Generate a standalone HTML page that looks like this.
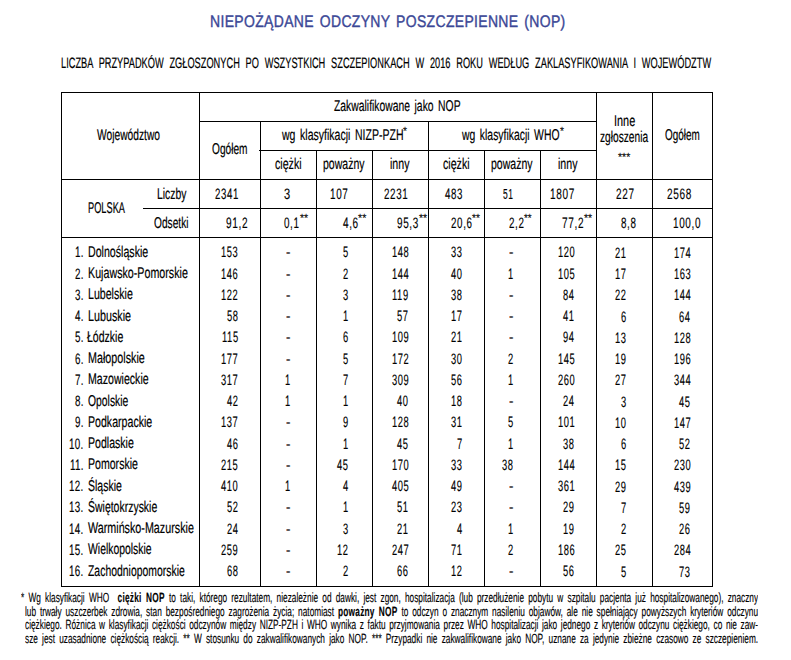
<!DOCTYPE html>
<html lang="pl"><head><meta charset="utf-8"><title>NOP 2016</title>
<style>
html,body{margin:0;padding:0;background:#fff}
body{width:791px;height:660px;position:relative;overflow:hidden;font-family:"Liberation Sans",sans-serif;color:#000}
.t{position:absolute;display:block;white-space:nowrap;transform-origin:0 0;-webkit-text-stroke:0.2px currentColor}
i{position:absolute;display:block;background:#000}
b{letter-spacing:.4px}
.f{position:absolute;white-space:nowrap;font-size:13.3px;line-height:13.3px;transform-origin:0 0;text-align:justify;text-align-last:justify;white-space:normal;overflow:hidden;height:16.3px;-webkit-text-stroke:0.15px currentColor}
</style></head><body>
<i style="left:61px;top:92px;width:652px;height:1px"></i>
<i style="left:61px;top:586px;width:652px;height:1px"></i>
<i style="left:61px;top:179px;width:652px;height:1px"></i>
<i style="left:61px;top:237px;width:652px;height:1px"></i>
<i style="left:199px;top:121px;width:398px;height:1px"></i>
<i style="left:259px;top:150px;width:338px;height:1px"></i>
<i style="left:143px;top:208px;width:570px;height:1px"></i>
<i style="left:61px;top:92px;width:1px;height:495px"></i>
<i style="left:712px;top:92px;width:1px;height:495px"></i>
<i style="left:199px;top:92px;width:1px;height:495px"></i>
<i style="left:260px;top:121px;width:1px;height:466px"></i>
<i style="left:428px;top:121px;width:1px;height:466px"></i>
<i style="left:316px;top:150px;width:1px;height:437px"></i>
<i style="left:372px;top:150px;width:1px;height:437px"></i>
<i style="left:484px;top:150px;width:1px;height:437px"></i>
<i style="left:540px;top:150px;width:1px;height:437px"></i>
<i style="left:596px;top:92px;width:1px;height:495px"></i>
<i style="left:652px;top:92px;width:1px;height:495px"></i>
<span class="t" style="left:209.97px;top:14.18px;font-size:16.8px;line-height:16.8px;transform:scaleX(0.8330) skewX(.05deg);word-spacing:2px;letter-spacing:0.4px;-webkit-text-stroke-width:0.4px;color:#3b4796">NIEPOŻĄDANE ODCZYNY POSZCZEPIENNE (NOP)</span>
<span class="t" style="left:61.08px;top:55.00px;font-size:15.0px;line-height:15.0px;transform:scaleX(0.6162) skewX(.05deg);word-spacing:5.2px">LICZBA PRZYPADKÓW ZGŁOSZONYCH PO WSZYSTKICH SZCZEPIONKACH W 2016 ROKU WEDŁUG ZAKLASYFIKOWANIA I WOJEWÓDZTW</span>
<span class="t" style="left:97.30px;top:126.69px;font-size:15.6px;line-height:15.6px;transform:scaleX(0.6567) skewX(.05deg)">Województwo</span>
<span class="t" style="left:212.20px;top:141.39px;font-size:15.6px;line-height:15.6px;transform:scaleX(0.6491) skewX(.05deg)">Ogółem</span>
<span class="t" style="left:334.20px;top:97.99px;font-size:15.6px;line-height:15.6px;transform:scaleX(0.6645) skewX(.05deg);word-spacing:2.5px">Zakwalifikowane jako NOP</span>
<span class="t" style="left:282.07px;top:126.89px;font-size:15.6px;line-height:15.6px;transform:scaleX(0.6748) skewX(.05deg);word-spacing:2.5px">wg klasyfikacji NIZP-PZH</span>
<span class="t" style="left:403.20px;top:125.29px;font-size:12px;line-height:12px;transform:scaleX(0.8600) skewX(.05deg);-webkit-text-stroke-width:0.1px">*</span>
<span class="t" style="left:461.67px;top:126.89px;font-size:15.6px;line-height:15.6px;transform:scaleX(0.6669) skewX(.05deg);word-spacing:2.5px">wg klasyfikacji WHO</span>
<span class="t" style="left:559.50px;top:125.29px;font-size:12px;line-height:12px;transform:scaleX(0.8600) skewX(.05deg);-webkit-text-stroke-width:0.1px">*</span>
<span class="t" style="left:275.00px;top:155.89px;font-size:15.6px;line-height:15.6px;transform:scaleX(0.6826) skewX(.05deg)">ciężki</span>
<span class="t" style="left:322.83px;top:155.89px;font-size:15.6px;line-height:15.6px;transform:scaleX(0.6749) skewX(.05deg)">poważny</span>
<span class="t" style="left:390.02px;top:155.89px;font-size:15.6px;line-height:15.6px;transform:scaleX(0.6832) skewX(.05deg)">inny</span>
<span class="t" style="left:443.00px;top:155.89px;font-size:15.6px;line-height:15.6px;transform:scaleX(0.6826) skewX(.05deg)">ciężki</span>
<span class="t" style="left:490.83px;top:155.89px;font-size:15.6px;line-height:15.6px;transform:scaleX(0.6749) skewX(.05deg)">poważny</span>
<span class="t" style="left:558.02px;top:155.89px;font-size:15.6px;line-height:15.6px;transform:scaleX(0.6832) skewX(.05deg)">inny</span>
<span class="t" style="left:613.50px;top:112.79px;font-size:15.6px;line-height:15.6px;transform:scaleX(0.6974) skewX(.05deg)">Inne</span>
<span class="t" style="left:599.50px;top:129.39px;font-size:15.6px;line-height:15.6px;transform:scaleX(0.6526) skewX(.05deg)">zgłoszenia</span>
<span class="t" style="left:617.90px;top:150.94px;font-size:12px;line-height:12px;transform:scaleX(0.8787) skewX(.05deg);-webkit-text-stroke-width:0.1px">***</span>
<span class="t" style="left:664.80px;top:126.69px;font-size:15.6px;line-height:15.6px;transform:scaleX(0.6361) skewX(.05deg)">Ogółem</span>
<span class="t" style="left:87.81px;top:199.89px;font-size:15.6px;line-height:15.6px;transform:scaleX(0.5919) skewX(.05deg)">POLSKA</span>
<span class="t" style="left:156.83px;top:185.99px;font-size:15.6px;line-height:15.6px;transform:scaleX(0.6682) skewX(.05deg)">Liczby</span>
<span class="t" style="left:154.40px;top:214.59px;font-size:15.6px;line-height:15.6px;transform:scaleX(0.6527) skewX(.05deg)">Odsetki</span>
<span class="t" style="left:214.70px;top:186.42px;font-size:15.1px;line-height:15.1px;transform:scaleX(0.6411) skewX(.05deg);letter-spacing:0.95px;-webkit-text-stroke-width:0.15px">2341</span>
<span class="t" style="left:284.00px;top:186.42px;font-size:15.1px;line-height:15.1px;transform:scaleX(0.7375) skewX(.05deg);letter-spacing:0.95px;-webkit-text-stroke-width:0.15px">3</span>
<span class="t" style="left:329.94px;top:186.42px;font-size:15.1px;line-height:15.1px;transform:scaleX(0.6579) skewX(.05deg);letter-spacing:0.95px;-webkit-text-stroke-width:0.15px">107</span>
<span class="t" style="left:384.40px;top:186.42px;font-size:15.1px;line-height:15.1px;transform:scaleX(0.6522) skewX(.05deg);letter-spacing:0.95px;-webkit-text-stroke-width:0.15px">2231</span>
<span class="t" style="left:444.60px;top:186.42px;font-size:15.1px;line-height:15.1px;transform:scaleX(0.6445) skewX(.05deg);letter-spacing:0.95px;-webkit-text-stroke-width:0.15px">483</span>
<span class="t" style="left:503.20px;top:186.42px;font-size:15.1px;line-height:15.1px;transform:scaleX(0.5593) skewX(.05deg);letter-spacing:0.95px;-webkit-text-stroke-width:0.15px">51</span>
<span class="t" style="left:550.03px;top:186.42px;font-size:15.1px;line-height:15.1px;transform:scaleX(0.6651) skewX(.05deg);letter-spacing:0.95px;-webkit-text-stroke-width:0.15px">1807</span>
<span class="t" style="left:615.50px;top:186.42px;font-size:15.1px;line-height:15.1px;transform:scaleX(0.6632) skewX(.05deg);letter-spacing:0.95px;-webkit-text-stroke-width:0.15px">227</span>
<span class="t" style="left:666.80px;top:186.42px;font-size:15.1px;line-height:15.1px;transform:scaleX(0.6661) skewX(.05deg);letter-spacing:0.95px;-webkit-text-stroke-width:0.15px">2568</span>
<span class="t" style="left:226.10px;top:215.22px;font-size:15.1px;line-height:15.1px;transform:scaleX(0.6723) skewX(.05deg);letter-spacing:0.95px;-webkit-text-stroke-width:0.15px">91,2</span>
<span class="t" style="left:284.00px;top:215.22px;font-size:15.1px;line-height:15.1px;transform:scaleX(0.6537) skewX(.05deg);letter-spacing:0.95px;-webkit-text-stroke-width:0.15px">0,1</span>
<span class="t" style="left:299.50px;top:212.29px;font-size:12px;line-height:12px;transform:scaleX(0.8790) skewX(.05deg);-webkit-text-stroke-width:0.1px">**</span>
<span class="t" style="left:342.50px;top:215.22px;font-size:15.1px;line-height:15.1px;transform:scaleX(0.6626) skewX(.05deg);letter-spacing:0.95px;-webkit-text-stroke-width:0.15px">4,6</span>
<span class="t" style="left:358.00px;top:212.29px;font-size:12px;line-height:12px;transform:scaleX(0.8894) skewX(.05deg);-webkit-text-stroke-width:0.1px">**</span>
<span class="t" style="left:396.50px;top:215.22px;font-size:15.1px;line-height:15.1px;transform:scaleX(0.6597) skewX(.05deg);letter-spacing:0.95px;-webkit-text-stroke-width:0.15px">95,3</span>
<span class="t" style="left:418.50px;top:212.29px;font-size:12px;line-height:12px;transform:scaleX(0.8790) skewX(.05deg);-webkit-text-stroke-width:0.1px">**</span>
<span class="t" style="left:450.90px;top:215.22px;font-size:15.1px;line-height:15.1px;transform:scaleX(0.6503) skewX(.05deg);letter-spacing:0.95px;-webkit-text-stroke-width:0.15px">20,6</span>
<span class="t" style="left:472.40px;top:212.29px;font-size:12px;line-height:12px;transform:scaleX(0.8480) skewX(.05deg);-webkit-text-stroke-width:0.1px">**</span>
<span class="t" style="left:508.80px;top:215.22px;font-size:15.1px;line-height:15.1px;transform:scaleX(0.6537) skewX(.05deg);letter-spacing:0.95px;-webkit-text-stroke-width:0.15px">2,2</span>
<span class="t" style="left:524.20px;top:212.29px;font-size:12px;line-height:12px;transform:scaleX(0.8273) skewX(.05deg);-webkit-text-stroke-width:0.1px">**</span>
<span class="t" style="left:562.40px;top:215.22px;font-size:15.1px;line-height:15.1px;transform:scaleX(0.6660) skewX(.05deg);letter-spacing:0.95px;-webkit-text-stroke-width:0.15px">77,2</span>
<span class="t" style="left:584.40px;top:212.29px;font-size:12px;line-height:12px;transform:scaleX(0.8790) skewX(.05deg);-webkit-text-stroke-width:0.1px">**</span>
<span class="t" style="left:620.50px;top:215.22px;font-size:15.1px;line-height:15.1px;transform:scaleX(0.6537) skewX(.05deg);letter-spacing:0.95px;-webkit-text-stroke-width:0.15px">8,8</span>
<span class="t" style="left:672.74px;top:215.22px;font-size:15.1px;line-height:15.1px;transform:scaleX(0.6596) skewX(.05deg);letter-spacing:0.95px;-webkit-text-stroke-width:0.15px">100,0</span>
<span class="t" style="left:74.83px;top:244.32px;font-size:15.1px;line-height:15.1px;transform:scaleX(0.6500) skewX(.05deg);letter-spacing:0.4px;-webkit-text-stroke-width:0.15px">1.</span>
<span class="t" style="left:87.62px;top:243.89px;font-size:15.6px;line-height:15.6px;transform:scaleX(0.6814) skewX(.05deg)">Dolnośląskie</span>
<span class="t" style="left:221.05px;top:244.32px;font-size:15.1px;line-height:15.1px;transform:scaleX(0.6200) skewX(.05deg);letter-spacing:0.95px;-webkit-text-stroke-width:0.15px">153</span>
<span class="t" style="left:285.90px;top:244.32px;font-size:15.1px;line-height:15.1px;transform:scaleX(0.8800) skewX(.05deg);letter-spacing:0.95px;-webkit-text-stroke-width:0.15px">-</span>
<span class="t" style="left:343.04px;top:244.32px;font-size:15.1px;line-height:15.1px;transform:scaleX(0.6200) skewX(.05deg);letter-spacing:0.95px;-webkit-text-stroke-width:0.15px">5</span>
<span class="t" style="left:391.65px;top:244.32px;font-size:15.1px;line-height:15.1px;transform:scaleX(0.6200) skewX(.05deg);letter-spacing:0.95px;-webkit-text-stroke-width:0.15px">148</span>
<span class="t" style="left:451.25px;top:244.32px;font-size:15.1px;line-height:15.1px;transform:scaleX(0.6200) skewX(.05deg);letter-spacing:0.95px;-webkit-text-stroke-width:0.15px">33</span>
<span class="t" style="left:508.90px;top:244.32px;font-size:15.1px;line-height:15.1px;transform:scaleX(0.8800) skewX(.05deg);letter-spacing:0.95px;-webkit-text-stroke-width:0.15px">-</span>
<span class="t" style="left:557.65px;top:244.32px;font-size:15.1px;line-height:15.1px;transform:scaleX(0.6200) skewX(.05deg);letter-spacing:0.95px;-webkit-text-stroke-width:0.15px">120</span>
<span class="t" style="left:615.05px;top:244.92px;font-size:15.1px;line-height:15.1px;transform:scaleX(0.6200) skewX(.05deg);letter-spacing:0.95px;-webkit-text-stroke-width:0.15px">21</span>
<span class="t" style="left:673.65px;top:244.92px;font-size:15.1px;line-height:15.1px;transform:scaleX(0.6200) skewX(.05deg);letter-spacing:0.95px;-webkit-text-stroke-width:0.15px">174</span>
<span class="t" style="left:74.83px;top:265.57px;font-size:15.1px;line-height:15.1px;transform:scaleX(0.6500) skewX(.05deg);letter-spacing:0.4px;-webkit-text-stroke-width:0.15px">2.</span>
<span class="t" style="left:87.61px;top:265.14px;font-size:15.6px;line-height:15.6px;transform:scaleX(0.6858) skewX(.05deg)">Kujawsko-Pomorskie</span>
<span class="t" style="left:221.05px;top:265.57px;font-size:15.1px;line-height:15.1px;transform:scaleX(0.6200) skewX(.05deg);letter-spacing:0.95px;-webkit-text-stroke-width:0.15px">146</span>
<span class="t" style="left:285.90px;top:265.57px;font-size:15.1px;line-height:15.1px;transform:scaleX(0.8800) skewX(.05deg);letter-spacing:0.95px;-webkit-text-stroke-width:0.15px">-</span>
<span class="t" style="left:343.04px;top:265.57px;font-size:15.1px;line-height:15.1px;transform:scaleX(0.6200) skewX(.05deg);letter-spacing:0.95px;-webkit-text-stroke-width:0.15px">2</span>
<span class="t" style="left:391.65px;top:265.57px;font-size:15.1px;line-height:15.1px;transform:scaleX(0.6200) skewX(.05deg);letter-spacing:0.95px;-webkit-text-stroke-width:0.15px">144</span>
<span class="t" style="left:451.25px;top:265.57px;font-size:15.1px;line-height:15.1px;transform:scaleX(0.6200) skewX(.05deg);letter-spacing:0.95px;-webkit-text-stroke-width:0.15px">40</span>
<span class="t" style="left:508.04px;top:265.57px;font-size:15.1px;line-height:15.1px;transform:scaleX(0.6200) skewX(.05deg);letter-spacing:0.95px;-webkit-text-stroke-width:0.15px">1</span>
<span class="t" style="left:557.65px;top:265.57px;font-size:15.1px;line-height:15.1px;transform:scaleX(0.6200) skewX(.05deg);letter-spacing:0.95px;-webkit-text-stroke-width:0.15px">105</span>
<span class="t" style="left:615.05px;top:266.17px;font-size:15.1px;line-height:15.1px;transform:scaleX(0.6200) skewX(.05deg);letter-spacing:0.95px;-webkit-text-stroke-width:0.15px">17</span>
<span class="t" style="left:673.65px;top:266.17px;font-size:15.1px;line-height:15.1px;transform:scaleX(0.6200) skewX(.05deg);letter-spacing:0.95px;-webkit-text-stroke-width:0.15px">163</span>
<span class="t" style="left:74.83px;top:286.82px;font-size:15.1px;line-height:15.1px;transform:scaleX(0.6500) skewX(.05deg);letter-spacing:0.4px;-webkit-text-stroke-width:0.15px">3.</span>
<span class="t" style="left:87.62px;top:286.39px;font-size:15.6px;line-height:15.6px;transform:scaleX(0.6806) skewX(.05deg)">Lubelskie</span>
<span class="t" style="left:221.05px;top:286.82px;font-size:15.1px;line-height:15.1px;transform:scaleX(0.6200) skewX(.05deg);letter-spacing:0.95px;-webkit-text-stroke-width:0.15px">122</span>
<span class="t" style="left:285.90px;top:286.82px;font-size:15.1px;line-height:15.1px;transform:scaleX(0.8800) skewX(.05deg);letter-spacing:0.95px;-webkit-text-stroke-width:0.15px">-</span>
<span class="t" style="left:343.04px;top:286.82px;font-size:15.1px;line-height:15.1px;transform:scaleX(0.6200) skewX(.05deg);letter-spacing:0.95px;-webkit-text-stroke-width:0.15px">3</span>
<span class="t" style="left:392.35px;top:286.82px;font-size:15.1px;line-height:15.1px;transform:scaleX(0.6200) skewX(.05deg);letter-spacing:0.95px;-webkit-text-stroke-width:0.15px">119</span>
<span class="t" style="left:451.25px;top:286.82px;font-size:15.1px;line-height:15.1px;transform:scaleX(0.6200) skewX(.05deg);letter-spacing:0.95px;-webkit-text-stroke-width:0.15px">38</span>
<span class="t" style="left:508.90px;top:286.82px;font-size:15.1px;line-height:15.1px;transform:scaleX(0.8800) skewX(.05deg);letter-spacing:0.95px;-webkit-text-stroke-width:0.15px">-</span>
<span class="t" style="left:563.45px;top:286.82px;font-size:15.1px;line-height:15.1px;transform:scaleX(0.6200) skewX(.05deg);letter-spacing:0.95px;-webkit-text-stroke-width:0.15px">84</span>
<span class="t" style="left:615.05px;top:287.42px;font-size:15.1px;line-height:15.1px;transform:scaleX(0.6200) skewX(.05deg);letter-spacing:0.95px;-webkit-text-stroke-width:0.15px">22</span>
<span class="t" style="left:673.65px;top:287.42px;font-size:15.1px;line-height:15.1px;transform:scaleX(0.6200) skewX(.05deg);letter-spacing:0.95px;-webkit-text-stroke-width:0.15px">144</span>
<span class="t" style="left:74.83px;top:308.07px;font-size:15.1px;line-height:15.1px;transform:scaleX(0.6500) skewX(.05deg);letter-spacing:0.4px;-webkit-text-stroke-width:0.15px">4.</span>
<span class="t" style="left:87.61px;top:307.64px;font-size:15.6px;line-height:15.6px;transform:scaleX(0.6897) skewX(.05deg)">Lubuskie</span>
<span class="t" style="left:226.85px;top:308.07px;font-size:15.1px;line-height:15.1px;transform:scaleX(0.6200) skewX(.05deg);letter-spacing:0.95px;-webkit-text-stroke-width:0.15px">58</span>
<span class="t" style="left:285.90px;top:308.07px;font-size:15.1px;line-height:15.1px;transform:scaleX(0.8800) skewX(.05deg);letter-spacing:0.95px;-webkit-text-stroke-width:0.15px">-</span>
<span class="t" style="left:343.04px;top:308.07px;font-size:15.1px;line-height:15.1px;transform:scaleX(0.6200) skewX(.05deg);letter-spacing:0.95px;-webkit-text-stroke-width:0.15px">1</span>
<span class="t" style="left:397.45px;top:308.07px;font-size:15.1px;line-height:15.1px;transform:scaleX(0.6200) skewX(.05deg);letter-spacing:0.95px;-webkit-text-stroke-width:0.15px">57</span>
<span class="t" style="left:451.25px;top:308.07px;font-size:15.1px;line-height:15.1px;transform:scaleX(0.6200) skewX(.05deg);letter-spacing:0.95px;-webkit-text-stroke-width:0.15px">17</span>
<span class="t" style="left:508.90px;top:308.07px;font-size:15.1px;line-height:15.1px;transform:scaleX(0.8800) skewX(.05deg);letter-spacing:0.95px;-webkit-text-stroke-width:0.15px">-</span>
<span class="t" style="left:563.45px;top:308.07px;font-size:15.1px;line-height:15.1px;transform:scaleX(0.6200) skewX(.05deg);letter-spacing:0.95px;-webkit-text-stroke-width:0.15px">41</span>
<span class="t" style="left:620.84px;top:308.67px;font-size:15.1px;line-height:15.1px;transform:scaleX(0.6200) skewX(.05deg);letter-spacing:0.95px;-webkit-text-stroke-width:0.15px">6</span>
<span class="t" style="left:679.45px;top:308.67px;font-size:15.1px;line-height:15.1px;transform:scaleX(0.6200) skewX(.05deg);letter-spacing:0.95px;-webkit-text-stroke-width:0.15px">64</span>
<span class="t" style="left:74.83px;top:329.32px;font-size:15.1px;line-height:15.1px;transform:scaleX(0.6500) skewX(.05deg);letter-spacing:0.4px;-webkit-text-stroke-width:0.15px">5.</span>
<span class="t" style="left:87.30px;top:328.89px;font-size:15.6px;line-height:15.6px;transform:scaleX(0.6745) skewX(.05deg)">Łódzkie</span>
<span class="t" style="left:221.75px;top:329.32px;font-size:15.1px;line-height:15.1px;transform:scaleX(0.6200) skewX(.05deg);letter-spacing:0.95px;-webkit-text-stroke-width:0.15px">115</span>
<span class="t" style="left:285.90px;top:329.32px;font-size:15.1px;line-height:15.1px;transform:scaleX(0.8800) skewX(.05deg);letter-spacing:0.95px;-webkit-text-stroke-width:0.15px">-</span>
<span class="t" style="left:343.04px;top:329.32px;font-size:15.1px;line-height:15.1px;transform:scaleX(0.6200) skewX(.05deg);letter-spacing:0.95px;-webkit-text-stroke-width:0.15px">6</span>
<span class="t" style="left:391.65px;top:329.32px;font-size:15.1px;line-height:15.1px;transform:scaleX(0.6200) skewX(.05deg);letter-spacing:0.95px;-webkit-text-stroke-width:0.15px">109</span>
<span class="t" style="left:451.25px;top:329.32px;font-size:15.1px;line-height:15.1px;transform:scaleX(0.6200) skewX(.05deg);letter-spacing:0.95px;-webkit-text-stroke-width:0.15px">21</span>
<span class="t" style="left:508.90px;top:329.32px;font-size:15.1px;line-height:15.1px;transform:scaleX(0.8800) skewX(.05deg);letter-spacing:0.95px;-webkit-text-stroke-width:0.15px">-</span>
<span class="t" style="left:563.45px;top:329.32px;font-size:15.1px;line-height:15.1px;transform:scaleX(0.6200) skewX(.05deg);letter-spacing:0.95px;-webkit-text-stroke-width:0.15px">94</span>
<span class="t" style="left:615.05px;top:329.92px;font-size:15.1px;line-height:15.1px;transform:scaleX(0.6200) skewX(.05deg);letter-spacing:0.95px;-webkit-text-stroke-width:0.15px">13</span>
<span class="t" style="left:673.65px;top:329.92px;font-size:15.1px;line-height:15.1px;transform:scaleX(0.6200) skewX(.05deg);letter-spacing:0.95px;-webkit-text-stroke-width:0.15px">128</span>
<span class="t" style="left:74.83px;top:350.57px;font-size:15.1px;line-height:15.1px;transform:scaleX(0.6500) skewX(.05deg);letter-spacing:0.4px;-webkit-text-stroke-width:0.15px">6.</span>
<span class="t" style="left:87.61px;top:350.14px;font-size:15.6px;line-height:15.6px;transform:scaleX(0.6893) skewX(.05deg)">Małopolskie</span>
<span class="t" style="left:221.05px;top:350.57px;font-size:15.1px;line-height:15.1px;transform:scaleX(0.6200) skewX(.05deg);letter-spacing:0.95px;-webkit-text-stroke-width:0.15px">177</span>
<span class="t" style="left:285.90px;top:350.57px;font-size:15.1px;line-height:15.1px;transform:scaleX(0.8800) skewX(.05deg);letter-spacing:0.95px;-webkit-text-stroke-width:0.15px">-</span>
<span class="t" style="left:343.04px;top:350.57px;font-size:15.1px;line-height:15.1px;transform:scaleX(0.6200) skewX(.05deg);letter-spacing:0.95px;-webkit-text-stroke-width:0.15px">5</span>
<span class="t" style="left:391.65px;top:350.57px;font-size:15.1px;line-height:15.1px;transform:scaleX(0.6200) skewX(.05deg);letter-spacing:0.95px;-webkit-text-stroke-width:0.15px">172</span>
<span class="t" style="left:451.25px;top:350.57px;font-size:15.1px;line-height:15.1px;transform:scaleX(0.6200) skewX(.05deg);letter-spacing:0.95px;-webkit-text-stroke-width:0.15px">30</span>
<span class="t" style="left:508.04px;top:350.57px;font-size:15.1px;line-height:15.1px;transform:scaleX(0.6200) skewX(.05deg);letter-spacing:0.95px;-webkit-text-stroke-width:0.15px">2</span>
<span class="t" style="left:557.65px;top:350.57px;font-size:15.1px;line-height:15.1px;transform:scaleX(0.6200) skewX(.05deg);letter-spacing:0.95px;-webkit-text-stroke-width:0.15px">145</span>
<span class="t" style="left:615.05px;top:351.17px;font-size:15.1px;line-height:15.1px;transform:scaleX(0.6200) skewX(.05deg);letter-spacing:0.95px;-webkit-text-stroke-width:0.15px">19</span>
<span class="t" style="left:673.65px;top:351.17px;font-size:15.1px;line-height:15.1px;transform:scaleX(0.6200) skewX(.05deg);letter-spacing:0.95px;-webkit-text-stroke-width:0.15px">196</span>
<span class="t" style="left:74.83px;top:371.82px;font-size:15.1px;line-height:15.1px;transform:scaleX(0.6500) skewX(.05deg);letter-spacing:0.4px;-webkit-text-stroke-width:0.15px">7.</span>
<span class="t" style="left:87.62px;top:371.39px;font-size:15.6px;line-height:15.6px;transform:scaleX(0.6793) skewX(.05deg)">Mazowieckie</span>
<span class="t" style="left:221.05px;top:371.82px;font-size:15.1px;line-height:15.1px;transform:scaleX(0.6200) skewX(.05deg);letter-spacing:0.95px;-webkit-text-stroke-width:0.15px">317</span>
<span class="t" style="left:285.04px;top:371.82px;font-size:15.1px;line-height:15.1px;transform:scaleX(0.6200) skewX(.05deg);letter-spacing:0.95px;-webkit-text-stroke-width:0.15px">1</span>
<span class="t" style="left:343.04px;top:371.82px;font-size:15.1px;line-height:15.1px;transform:scaleX(0.6200) skewX(.05deg);letter-spacing:0.95px;-webkit-text-stroke-width:0.15px">7</span>
<span class="t" style="left:391.65px;top:371.82px;font-size:15.1px;line-height:15.1px;transform:scaleX(0.6200) skewX(.05deg);letter-spacing:0.95px;-webkit-text-stroke-width:0.15px">309</span>
<span class="t" style="left:451.25px;top:371.82px;font-size:15.1px;line-height:15.1px;transform:scaleX(0.6200) skewX(.05deg);letter-spacing:0.95px;-webkit-text-stroke-width:0.15px">56</span>
<span class="t" style="left:508.04px;top:371.82px;font-size:15.1px;line-height:15.1px;transform:scaleX(0.6200) skewX(.05deg);letter-spacing:0.95px;-webkit-text-stroke-width:0.15px">1</span>
<span class="t" style="left:557.65px;top:371.82px;font-size:15.1px;line-height:15.1px;transform:scaleX(0.6200) skewX(.05deg);letter-spacing:0.95px;-webkit-text-stroke-width:0.15px">260</span>
<span class="t" style="left:615.05px;top:372.42px;font-size:15.1px;line-height:15.1px;transform:scaleX(0.6200) skewX(.05deg);letter-spacing:0.95px;-webkit-text-stroke-width:0.15px">27</span>
<span class="t" style="left:673.65px;top:372.42px;font-size:15.1px;line-height:15.1px;transform:scaleX(0.6200) skewX(.05deg);letter-spacing:0.95px;-webkit-text-stroke-width:0.15px">344</span>
<span class="t" style="left:74.83px;top:393.07px;font-size:15.1px;line-height:15.1px;transform:scaleX(0.6500) skewX(.05deg);letter-spacing:0.4px;-webkit-text-stroke-width:0.15px">8.</span>
<span class="t" style="left:87.90px;top:392.64px;font-size:15.6px;line-height:15.6px;transform:scaleX(0.6650) skewX(.05deg)">Opolskie</span>
<span class="t" style="left:226.85px;top:393.07px;font-size:15.1px;line-height:15.1px;transform:scaleX(0.6200) skewX(.05deg);letter-spacing:0.95px;-webkit-text-stroke-width:0.15px">42</span>
<span class="t" style="left:285.04px;top:393.07px;font-size:15.1px;line-height:15.1px;transform:scaleX(0.6200) skewX(.05deg);letter-spacing:0.95px;-webkit-text-stroke-width:0.15px">1</span>
<span class="t" style="left:343.04px;top:393.07px;font-size:15.1px;line-height:15.1px;transform:scaleX(0.6200) skewX(.05deg);letter-spacing:0.95px;-webkit-text-stroke-width:0.15px">1</span>
<span class="t" style="left:397.45px;top:393.07px;font-size:15.1px;line-height:15.1px;transform:scaleX(0.6200) skewX(.05deg);letter-spacing:0.95px;-webkit-text-stroke-width:0.15px">40</span>
<span class="t" style="left:451.25px;top:393.07px;font-size:15.1px;line-height:15.1px;transform:scaleX(0.6200) skewX(.05deg);letter-spacing:0.95px;-webkit-text-stroke-width:0.15px">18</span>
<span class="t" style="left:508.90px;top:393.07px;font-size:15.1px;line-height:15.1px;transform:scaleX(0.8800) skewX(.05deg);letter-spacing:0.95px;-webkit-text-stroke-width:0.15px">-</span>
<span class="t" style="left:563.45px;top:393.07px;font-size:15.1px;line-height:15.1px;transform:scaleX(0.6200) skewX(.05deg);letter-spacing:0.95px;-webkit-text-stroke-width:0.15px">24</span>
<span class="t" style="left:620.84px;top:393.67px;font-size:15.1px;line-height:15.1px;transform:scaleX(0.6200) skewX(.05deg);letter-spacing:0.95px;-webkit-text-stroke-width:0.15px">3</span>
<span class="t" style="left:679.45px;top:393.67px;font-size:15.1px;line-height:15.1px;transform:scaleX(0.6200) skewX(.05deg);letter-spacing:0.95px;-webkit-text-stroke-width:0.15px">45</span>
<span class="t" style="left:74.83px;top:414.32px;font-size:15.1px;line-height:15.1px;transform:scaleX(0.6500) skewX(.05deg);letter-spacing:0.4px;-webkit-text-stroke-width:0.15px">9.</span>
<span class="t" style="left:87.62px;top:413.89px;font-size:15.6px;line-height:15.6px;transform:scaleX(0.6799) skewX(.05deg)">Podkarpackie</span>
<span class="t" style="left:221.05px;top:414.32px;font-size:15.1px;line-height:15.1px;transform:scaleX(0.6200) skewX(.05deg);letter-spacing:0.95px;-webkit-text-stroke-width:0.15px">137</span>
<span class="t" style="left:285.90px;top:414.32px;font-size:15.1px;line-height:15.1px;transform:scaleX(0.8800) skewX(.05deg);letter-spacing:0.95px;-webkit-text-stroke-width:0.15px">-</span>
<span class="t" style="left:343.04px;top:414.32px;font-size:15.1px;line-height:15.1px;transform:scaleX(0.6200) skewX(.05deg);letter-spacing:0.95px;-webkit-text-stroke-width:0.15px">9</span>
<span class="t" style="left:391.65px;top:414.32px;font-size:15.1px;line-height:15.1px;transform:scaleX(0.6200) skewX(.05deg);letter-spacing:0.95px;-webkit-text-stroke-width:0.15px">128</span>
<span class="t" style="left:451.25px;top:414.32px;font-size:15.1px;line-height:15.1px;transform:scaleX(0.6200) skewX(.05deg);letter-spacing:0.95px;-webkit-text-stroke-width:0.15px">31</span>
<span class="t" style="left:508.04px;top:414.32px;font-size:15.1px;line-height:15.1px;transform:scaleX(0.6200) skewX(.05deg);letter-spacing:0.95px;-webkit-text-stroke-width:0.15px">5</span>
<span class="t" style="left:557.65px;top:414.32px;font-size:15.1px;line-height:15.1px;transform:scaleX(0.6200) skewX(.05deg);letter-spacing:0.95px;-webkit-text-stroke-width:0.15px">101</span>
<span class="t" style="left:615.05px;top:414.92px;font-size:15.1px;line-height:15.1px;transform:scaleX(0.6200) skewX(.05deg);letter-spacing:0.95px;-webkit-text-stroke-width:0.15px">10</span>
<span class="t" style="left:673.65px;top:414.92px;font-size:15.1px;line-height:15.1px;transform:scaleX(0.6200) skewX(.05deg);letter-spacing:0.95px;-webkit-text-stroke-width:0.15px">147</span>
<span class="t" style="left:69.12px;top:435.57px;font-size:15.1px;line-height:15.1px;transform:scaleX(0.6500) skewX(.05deg);letter-spacing:0.4px;-webkit-text-stroke-width:0.15px">10.</span>
<span class="t" style="left:87.62px;top:435.14px;font-size:15.6px;line-height:15.6px;transform:scaleX(0.6779) skewX(.05deg)">Podlaskie</span>
<span class="t" style="left:226.85px;top:435.57px;font-size:15.1px;line-height:15.1px;transform:scaleX(0.6200) skewX(.05deg);letter-spacing:0.95px;-webkit-text-stroke-width:0.15px">46</span>
<span class="t" style="left:285.90px;top:435.57px;font-size:15.1px;line-height:15.1px;transform:scaleX(0.8800) skewX(.05deg);letter-spacing:0.95px;-webkit-text-stroke-width:0.15px">-</span>
<span class="t" style="left:343.04px;top:435.57px;font-size:15.1px;line-height:15.1px;transform:scaleX(0.6200) skewX(.05deg);letter-spacing:0.95px;-webkit-text-stroke-width:0.15px">1</span>
<span class="t" style="left:397.45px;top:435.57px;font-size:15.1px;line-height:15.1px;transform:scaleX(0.6200) skewX(.05deg);letter-spacing:0.95px;-webkit-text-stroke-width:0.15px">45</span>
<span class="t" style="left:457.04px;top:435.57px;font-size:15.1px;line-height:15.1px;transform:scaleX(0.6200) skewX(.05deg);letter-spacing:0.95px;-webkit-text-stroke-width:0.15px">7</span>
<span class="t" style="left:508.04px;top:435.57px;font-size:15.1px;line-height:15.1px;transform:scaleX(0.6200) skewX(.05deg);letter-spacing:0.95px;-webkit-text-stroke-width:0.15px">1</span>
<span class="t" style="left:563.45px;top:435.57px;font-size:15.1px;line-height:15.1px;transform:scaleX(0.6200) skewX(.05deg);letter-spacing:0.95px;-webkit-text-stroke-width:0.15px">38</span>
<span class="t" style="left:620.84px;top:436.17px;font-size:15.1px;line-height:15.1px;transform:scaleX(0.6200) skewX(.05deg);letter-spacing:0.95px;-webkit-text-stroke-width:0.15px">6</span>
<span class="t" style="left:679.45px;top:436.17px;font-size:15.1px;line-height:15.1px;transform:scaleX(0.6200) skewX(.05deg);letter-spacing:0.95px;-webkit-text-stroke-width:0.15px">52</span>
<span class="t" style="left:69.85px;top:456.82px;font-size:15.1px;line-height:15.1px;transform:scaleX(0.6500) skewX(.05deg);letter-spacing:0.4px;-webkit-text-stroke-width:0.15px">11.</span>
<span class="t" style="left:87.62px;top:456.39px;font-size:15.6px;line-height:15.6px;transform:scaleX(0.6779) skewX(.05deg)">Pomorskie</span>
<span class="t" style="left:221.05px;top:456.82px;font-size:15.1px;line-height:15.1px;transform:scaleX(0.6200) skewX(.05deg);letter-spacing:0.95px;-webkit-text-stroke-width:0.15px">215</span>
<span class="t" style="left:285.90px;top:456.82px;font-size:15.1px;line-height:15.1px;transform:scaleX(0.8800) skewX(.05deg);letter-spacing:0.95px;-webkit-text-stroke-width:0.15px">-</span>
<span class="t" style="left:337.25px;top:456.82px;font-size:15.1px;line-height:15.1px;transform:scaleX(0.6200) skewX(.05deg);letter-spacing:0.95px;-webkit-text-stroke-width:0.15px">45</span>
<span class="t" style="left:391.65px;top:456.82px;font-size:15.1px;line-height:15.1px;transform:scaleX(0.6200) skewX(.05deg);letter-spacing:0.95px;-webkit-text-stroke-width:0.15px">170</span>
<span class="t" style="left:451.25px;top:456.82px;font-size:15.1px;line-height:15.1px;transform:scaleX(0.6200) skewX(.05deg);letter-spacing:0.95px;-webkit-text-stroke-width:0.15px">33</span>
<span class="t" style="left:502.25px;top:456.82px;font-size:15.1px;line-height:15.1px;transform:scaleX(0.6200) skewX(.05deg);letter-spacing:0.95px;-webkit-text-stroke-width:0.15px">38</span>
<span class="t" style="left:557.65px;top:456.82px;font-size:15.1px;line-height:15.1px;transform:scaleX(0.6200) skewX(.05deg);letter-spacing:0.95px;-webkit-text-stroke-width:0.15px">144</span>
<span class="t" style="left:615.05px;top:457.42px;font-size:15.1px;line-height:15.1px;transform:scaleX(0.6200) skewX(.05deg);letter-spacing:0.95px;-webkit-text-stroke-width:0.15px">15</span>
<span class="t" style="left:673.65px;top:457.42px;font-size:15.1px;line-height:15.1px;transform:scaleX(0.6200) skewX(.05deg);letter-spacing:0.95px;-webkit-text-stroke-width:0.15px">230</span>
<span class="t" style="left:69.12px;top:478.07px;font-size:15.1px;line-height:15.1px;transform:scaleX(0.6500) skewX(.05deg);letter-spacing:0.4px;-webkit-text-stroke-width:0.15px">12.</span>
<span class="t" style="left:87.90px;top:477.64px;font-size:15.6px;line-height:15.6px;transform:scaleX(0.6734) skewX(.05deg)">Śląskie</span>
<span class="t" style="left:221.05px;top:478.07px;font-size:15.1px;line-height:15.1px;transform:scaleX(0.6200) skewX(.05deg);letter-spacing:0.95px;-webkit-text-stroke-width:0.15px">410</span>
<span class="t" style="left:285.04px;top:478.07px;font-size:15.1px;line-height:15.1px;transform:scaleX(0.6200) skewX(.05deg);letter-spacing:0.95px;-webkit-text-stroke-width:0.15px">1</span>
<span class="t" style="left:343.04px;top:478.07px;font-size:15.1px;line-height:15.1px;transform:scaleX(0.6200) skewX(.05deg);letter-spacing:0.95px;-webkit-text-stroke-width:0.15px">4</span>
<span class="t" style="left:391.65px;top:478.07px;font-size:15.1px;line-height:15.1px;transform:scaleX(0.6200) skewX(.05deg);letter-spacing:0.95px;-webkit-text-stroke-width:0.15px">405</span>
<span class="t" style="left:451.25px;top:478.07px;font-size:15.1px;line-height:15.1px;transform:scaleX(0.6200) skewX(.05deg);letter-spacing:0.95px;-webkit-text-stroke-width:0.15px">49</span>
<span class="t" style="left:508.90px;top:478.07px;font-size:15.1px;line-height:15.1px;transform:scaleX(0.8800) skewX(.05deg);letter-spacing:0.95px;-webkit-text-stroke-width:0.15px">-</span>
<span class="t" style="left:557.65px;top:478.07px;font-size:15.1px;line-height:15.1px;transform:scaleX(0.6200) skewX(.05deg);letter-spacing:0.95px;-webkit-text-stroke-width:0.15px">361</span>
<span class="t" style="left:615.05px;top:478.67px;font-size:15.1px;line-height:15.1px;transform:scaleX(0.6200) skewX(.05deg);letter-spacing:0.95px;-webkit-text-stroke-width:0.15px">29</span>
<span class="t" style="left:673.65px;top:478.67px;font-size:15.1px;line-height:15.1px;transform:scaleX(0.6200) skewX(.05deg);letter-spacing:0.95px;-webkit-text-stroke-width:0.15px">439</span>
<span class="t" style="left:69.12px;top:499.32px;font-size:15.1px;line-height:15.1px;transform:scaleX(0.6500) skewX(.05deg);letter-spacing:0.4px;-webkit-text-stroke-width:0.15px">13.</span>
<span class="t" style="left:88.30px;top:498.89px;font-size:15.6px;line-height:15.6px;transform:scaleX(0.6716) skewX(.05deg)">Świętokrzyskie</span>
<span class="t" style="left:226.85px;top:499.32px;font-size:15.1px;line-height:15.1px;transform:scaleX(0.6200) skewX(.05deg);letter-spacing:0.95px;-webkit-text-stroke-width:0.15px">52</span>
<span class="t" style="left:285.90px;top:499.32px;font-size:15.1px;line-height:15.1px;transform:scaleX(0.8800) skewX(.05deg);letter-spacing:0.95px;-webkit-text-stroke-width:0.15px">-</span>
<span class="t" style="left:343.04px;top:499.32px;font-size:15.1px;line-height:15.1px;transform:scaleX(0.6200) skewX(.05deg);letter-spacing:0.95px;-webkit-text-stroke-width:0.15px">1</span>
<span class="t" style="left:397.45px;top:499.32px;font-size:15.1px;line-height:15.1px;transform:scaleX(0.6200) skewX(.05deg);letter-spacing:0.95px;-webkit-text-stroke-width:0.15px">51</span>
<span class="t" style="left:451.25px;top:499.32px;font-size:15.1px;line-height:15.1px;transform:scaleX(0.6200) skewX(.05deg);letter-spacing:0.95px;-webkit-text-stroke-width:0.15px">23</span>
<span class="t" style="left:508.90px;top:499.32px;font-size:15.1px;line-height:15.1px;transform:scaleX(0.8800) skewX(.05deg);letter-spacing:0.95px;-webkit-text-stroke-width:0.15px">-</span>
<span class="t" style="left:563.45px;top:499.32px;font-size:15.1px;line-height:15.1px;transform:scaleX(0.6200) skewX(.05deg);letter-spacing:0.95px;-webkit-text-stroke-width:0.15px">29</span>
<span class="t" style="left:620.84px;top:499.92px;font-size:15.1px;line-height:15.1px;transform:scaleX(0.6200) skewX(.05deg);letter-spacing:0.95px;-webkit-text-stroke-width:0.15px">7</span>
<span class="t" style="left:679.45px;top:499.92px;font-size:15.1px;line-height:15.1px;transform:scaleX(0.6200) skewX(.05deg);letter-spacing:0.95px;-webkit-text-stroke-width:0.15px">59</span>
<span class="t" style="left:69.12px;top:520.57px;font-size:15.1px;line-height:15.1px;transform:scaleX(0.6500) skewX(.05deg);letter-spacing:0.4px;-webkit-text-stroke-width:0.15px">14.</span>
<span class="t" style="left:88.30px;top:520.14px;font-size:15.6px;line-height:15.6px;transform:scaleX(0.6890) skewX(.05deg)">Warmińsko-Mazurskie</span>
<span class="t" style="left:226.85px;top:520.57px;font-size:15.1px;line-height:15.1px;transform:scaleX(0.6200) skewX(.05deg);letter-spacing:0.95px;-webkit-text-stroke-width:0.15px">24</span>
<span class="t" style="left:285.90px;top:520.57px;font-size:15.1px;line-height:15.1px;transform:scaleX(0.8800) skewX(.05deg);letter-spacing:0.95px;-webkit-text-stroke-width:0.15px">-</span>
<span class="t" style="left:343.04px;top:520.57px;font-size:15.1px;line-height:15.1px;transform:scaleX(0.6200) skewX(.05deg);letter-spacing:0.95px;-webkit-text-stroke-width:0.15px">3</span>
<span class="t" style="left:397.45px;top:520.57px;font-size:15.1px;line-height:15.1px;transform:scaleX(0.6200) skewX(.05deg);letter-spacing:0.95px;-webkit-text-stroke-width:0.15px">21</span>
<span class="t" style="left:457.04px;top:520.57px;font-size:15.1px;line-height:15.1px;transform:scaleX(0.6200) skewX(.05deg);letter-spacing:0.95px;-webkit-text-stroke-width:0.15px">4</span>
<span class="t" style="left:508.04px;top:520.57px;font-size:15.1px;line-height:15.1px;transform:scaleX(0.6200) skewX(.05deg);letter-spacing:0.95px;-webkit-text-stroke-width:0.15px">1</span>
<span class="t" style="left:563.45px;top:520.57px;font-size:15.1px;line-height:15.1px;transform:scaleX(0.6200) skewX(.05deg);letter-spacing:0.95px;-webkit-text-stroke-width:0.15px">19</span>
<span class="t" style="left:620.84px;top:521.17px;font-size:15.1px;line-height:15.1px;transform:scaleX(0.6200) skewX(.05deg);letter-spacing:0.95px;-webkit-text-stroke-width:0.15px">2</span>
<span class="t" style="left:679.45px;top:521.17px;font-size:15.1px;line-height:15.1px;transform:scaleX(0.6200) skewX(.05deg);letter-spacing:0.95px;-webkit-text-stroke-width:0.15px">26</span>
<span class="t" style="left:69.12px;top:541.82px;font-size:15.1px;line-height:15.1px;transform:scaleX(0.6500) skewX(.05deg);letter-spacing:0.4px;-webkit-text-stroke-width:0.15px">15.</span>
<span class="t" style="left:88.30px;top:541.39px;font-size:15.6px;line-height:15.6px;transform:scaleX(0.6666) skewX(.05deg)">Wielkopolskie</span>
<span class="t" style="left:221.05px;top:541.82px;font-size:15.1px;line-height:15.1px;transform:scaleX(0.6200) skewX(.05deg);letter-spacing:0.95px;-webkit-text-stroke-width:0.15px">259</span>
<span class="t" style="left:285.90px;top:541.82px;font-size:15.1px;line-height:15.1px;transform:scaleX(0.8800) skewX(.05deg);letter-spacing:0.95px;-webkit-text-stroke-width:0.15px">-</span>
<span class="t" style="left:337.25px;top:541.82px;font-size:15.1px;line-height:15.1px;transform:scaleX(0.6200) skewX(.05deg);letter-spacing:0.95px;-webkit-text-stroke-width:0.15px">12</span>
<span class="t" style="left:391.65px;top:541.82px;font-size:15.1px;line-height:15.1px;transform:scaleX(0.6200) skewX(.05deg);letter-spacing:0.95px;-webkit-text-stroke-width:0.15px">247</span>
<span class="t" style="left:451.25px;top:541.82px;font-size:15.1px;line-height:15.1px;transform:scaleX(0.6200) skewX(.05deg);letter-spacing:0.95px;-webkit-text-stroke-width:0.15px">71</span>
<span class="t" style="left:508.04px;top:541.82px;font-size:15.1px;line-height:15.1px;transform:scaleX(0.6200) skewX(.05deg);letter-spacing:0.95px;-webkit-text-stroke-width:0.15px">2</span>
<span class="t" style="left:557.65px;top:541.82px;font-size:15.1px;line-height:15.1px;transform:scaleX(0.6200) skewX(.05deg);letter-spacing:0.95px;-webkit-text-stroke-width:0.15px">186</span>
<span class="t" style="left:615.05px;top:542.42px;font-size:15.1px;line-height:15.1px;transform:scaleX(0.6200) skewX(.05deg);letter-spacing:0.95px;-webkit-text-stroke-width:0.15px">25</span>
<span class="t" style="left:673.65px;top:542.42px;font-size:15.1px;line-height:15.1px;transform:scaleX(0.6200) skewX(.05deg);letter-spacing:0.95px;-webkit-text-stroke-width:0.15px">284</span>
<span class="t" style="left:69.12px;top:563.07px;font-size:15.1px;line-height:15.1px;transform:scaleX(0.6500) skewX(.05deg);letter-spacing:0.4px;-webkit-text-stroke-width:0.15px">16.</span>
<span class="t" style="left:88.30px;top:562.64px;font-size:15.6px;line-height:15.6px;transform:scaleX(0.6684) skewX(.05deg)">Zachodniopomorskie</span>
<span class="t" style="left:226.85px;top:563.07px;font-size:15.1px;line-height:15.1px;transform:scaleX(0.6200) skewX(.05deg);letter-spacing:0.95px;-webkit-text-stroke-width:0.15px">68</span>
<span class="t" style="left:285.90px;top:563.07px;font-size:15.1px;line-height:15.1px;transform:scaleX(0.8800) skewX(.05deg);letter-spacing:0.95px;-webkit-text-stroke-width:0.15px">-</span>
<span class="t" style="left:343.04px;top:563.07px;font-size:15.1px;line-height:15.1px;transform:scaleX(0.6200) skewX(.05deg);letter-spacing:0.95px;-webkit-text-stroke-width:0.15px">2</span>
<span class="t" style="left:397.45px;top:563.07px;font-size:15.1px;line-height:15.1px;transform:scaleX(0.6200) skewX(.05deg);letter-spacing:0.95px;-webkit-text-stroke-width:0.15px">66</span>
<span class="t" style="left:451.25px;top:563.07px;font-size:15.1px;line-height:15.1px;transform:scaleX(0.6200) skewX(.05deg);letter-spacing:0.95px;-webkit-text-stroke-width:0.15px">12</span>
<span class="t" style="left:508.90px;top:563.07px;font-size:15.1px;line-height:15.1px;transform:scaleX(0.8800) skewX(.05deg);letter-spacing:0.95px;-webkit-text-stroke-width:0.15px">-</span>
<span class="t" style="left:563.45px;top:563.07px;font-size:15.1px;line-height:15.1px;transform:scaleX(0.6200) skewX(.05deg);letter-spacing:0.95px;-webkit-text-stroke-width:0.15px">56</span>
<span class="t" style="left:620.84px;top:563.67px;font-size:15.1px;line-height:15.1px;transform:scaleX(0.6200) skewX(.05deg);letter-spacing:0.95px;-webkit-text-stroke-width:0.15px">5</span>
<span class="t" style="left:679.45px;top:563.67px;font-size:15.1px;line-height:15.1px;transform:scaleX(0.6200) skewX(.05deg);letter-spacing:0.95px;-webkit-text-stroke-width:0.15px">73</span>
<div class="f" style="left:21.1px;top:590.89px;width:1181.25px;transform:scaleX(0.624) skewX(.05deg)">* Wg klasyfikacji WHO&nbsp; <b>ciężki NOP</b> to taki, którego rezultatem, niezależnie od dawki, jest zgon, hospitalizacja (lub przedłużenie pobytu w szpitalu pacjenta już hospitalizowanego), znaczny</div>
<div class="f" style="left:25.1px;top:604.59px;width:1174.84px;transform:scaleX(0.624) skewX(.05deg)">lub trwały uszczerbek zdrowia, stan bezpośredniego zagrożenia życia; natomiast <b>poważny NOP</b> to odczyn o znacznym nasileniu objawów, ale nie spełniający powyższych kryteriów odczynu</div>
<div class="f" style="left:25.1px;top:618.19px;width:1174.84px;transform:scaleX(0.624) skewX(.05deg)">ciężkiego. Różnica w klasyfikacji ciężkości odczynów między NIZP-PZH i WHO wynika z faktu przyjmowania przez WHO hospitalizacji jako jednego z kryteriów odczynu ciężkiego, co nie zaw-</div>
<div class="f" style="left:25.1px;top:631.69px;width:1174.84px;transform:scaleX(0.624) skewX(.05deg)">sze jest uzasadnione ciężkością reakcji. ** W stosunku do zakwalifikowanych jako NOP. *** Przypadki nie zakwalifikowane jako NOP, uznane za jedynie zbieżne czasowo ze szczepieniem.</div>
</body></html>
